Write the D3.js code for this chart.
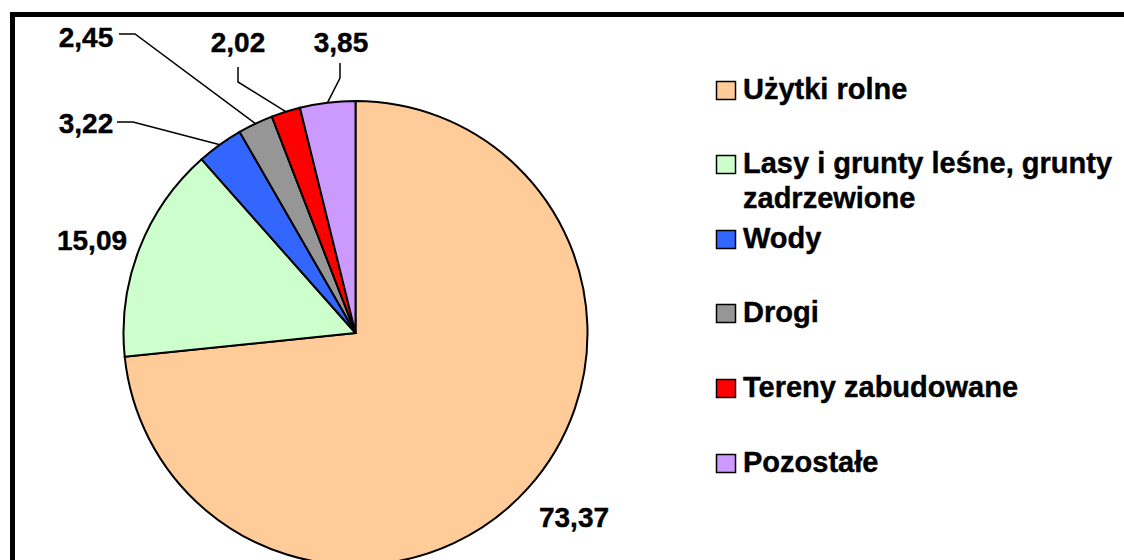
<!DOCTYPE html>
<html>
<head>
<meta charset="utf-8">
<script src="https://cdn.jsdelivr.net/npm/d3@7"></script>
<style>
  body { margin: 0; background: #fff; }
  text { font-family: "Liberation Sans", Arial, sans-serif; font-weight: bold; fill: #000; stroke: #000; stroke-width: 0.4; }
</style>
</head>
<body>
<div id="chart"></div>
<script>
// Data
const categories = ['Użytki rolne', 'Lasy i grunty leśne, grunty zadrzewione', 'Wody', 'Drogi', 'Tereny zabudowane', 'Pozostałe'];
const values = [73.37, 15.09, 3.22, 2.45, 2.02, 3.85];
const colors = ['#FFCC99', '#CCFFCC', '#3366FF', '#969696', '#FF0000', '#CC99FF'];
const legendLines = [['Użytki rolne'], ['Lasy i grunty leśne, grunty', 'zadrzewione'], ['Wody'], ['Drogi'], ['Tereny zabudowane'], ['Pozostałe']];

// Canvas
const width = 1124;
const height = 560;
const svg = d3.select('#chart')
    .append('svg')
    .attr('width', width)
    .attr('height', height);

// Chart frame (runs off the right and bottom edges)
svg.append('rect')
    .attr('x', 12.5)
    .attr('y', 14.5)
    .attr('width', 1300)
    .attr('height', 1000)
    .attr('fill', 'none')
    .attr('stroke', '#000')
    .attr('stroke-width', 5);

// Pie geometry
const cx = 355.5;
const cy = 333;
const radius = 232;

const fmt = v => v.toFixed(2).replace('.', ',');

const pie = d3.pie().sort(null).value(d => d)(values);
const arc = d3.arc().innerRadius(0).outerRadius(radius);

const pieGroup = svg.append('g').attr('transform', `translate(${cx},${cy})`);
pieGroup.selectAll('path')
    .data(pie)
    .join('path')
    .attr('d', arc)
    .attr('fill', (d, i) => colors[i])
    .attr('stroke', '#000')
    .attr('stroke-width', 2);

// Data labels: text position and leader line elbow (null = no leader)
const labelPos = [
    { x: 574, y: 527, elbow: null },
    { x: 92, y: 250, elbow: null },
    { x: 86, y: 133, elbow: [[117, 122], [133, 122]] },
    { x: 86, y: 47, elbow: [[119, 34], [135, 34]] },
    { x: 238, y: 52, elbow: [[238, 67], [238, 82]] },
    { x: 341, y: 52, elbow: [[340, 63], [340, 78]] }
];

// point on the rim at the middle of a slice
function rimPoint(d) {
    const a = (d.startAngle + d.endAngle) / 2;
    return [cx + radius * Math.sin(a), cy - radius * Math.cos(a)];
}

const labelGroup = svg.append('g');
pie.forEach((d, i) => {
    const p = labelPos[i];
    if (p.elbow) {
        const pts = p.elbow.concat([rimPoint(d)]);
        labelGroup.append('path')
            .attr('d', d3.line()(pts))
            .attr('fill', 'none')
            .attr('stroke', '#000')
            .attr('stroke-width', 1.5);
    }
    labelGroup.append('text')
        .attr('x', p.x)
        .attr('y', p.y)
        .attr('text-anchor', 'middle')
        .attr('font-size', 28)
        .text(fmt(values[i]));
});

// Legend
const legendY = [99, 173, 248, 322, 397, 472];
const legend = svg.append('g');
categories.forEach((c, i) => {
    legend.append('rect')
        .attr('x', 716.5)
        .attr('y', legendY[i] - 17.5)
        .attr('width', 19)
        .attr('height', 18)
        .attr('fill', colors[i])
        .attr('stroke', '#000')
        .attr('stroke-width', 1.5);
    legendLines[i].forEach((line, j) => {
        legend.append('text')
            .attr('x', 743)
            .attr('y', legendY[i] + j * 35)
            .attr('font-size', 29)
            .text(line);
    });
});
</script>
</body>
</html>
